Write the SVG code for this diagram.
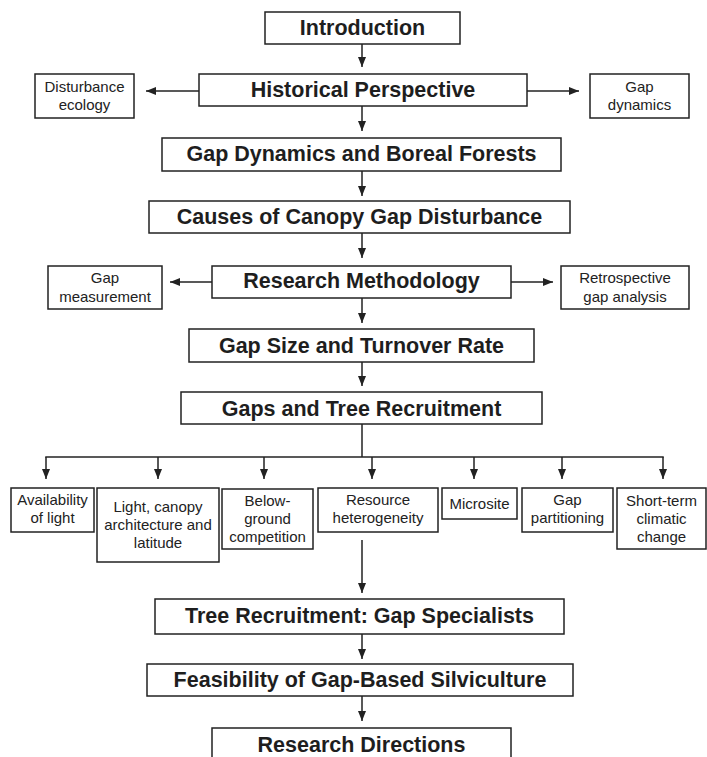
<svg xmlns="http://www.w3.org/2000/svg" width="707" height="757" viewBox="0 0 707 757">
<style>
  .box { fill: #ffffff; stroke: #222222; stroke-width: 1.5; }
  .big { font-family: "Liberation Sans", Arial, Helvetica, sans-serif; font-weight: bold; font-size: 21.5px; fill: #1e1e1e; text-anchor: middle; }
  .sm { font-family: "Liberation Sans", Arial, Helvetica, sans-serif; font-size: 15px; fill: #222222; text-anchor: middle; }
  .ln { stroke: #222222; stroke-width: 1.5; fill: none; }
  .ar { stroke: #222222; stroke-width: 1.5; fill: none; marker-end: url(#ah); }
</style>
<defs>
  <marker id="ah" viewBox="0 0 10 8" refX="10" refY="4" markerWidth="10" markerHeight="8" markerUnits="userSpaceOnUse" orient="auto">
    <path d="M0,0 L10,4 L0,8 z" fill="#222222"/>
  </marker>
</defs>
<rect x="0" y="0" width="707" height="757" fill="#ffffff"/>

<g id="connectors">
  <line class="ar" x1="362" y1="44" x2="362" y2="67"/>
  <line class="ar" x1="199" y1="91" x2="146" y2="91"/>
  <line class="ar" x1="527" y1="91" x2="579" y2="91"/>
  <line class="ar" x1="362" y1="106" x2="362" y2="131"/>
  <line class="ar" x1="362" y1="171" x2="362" y2="196"/>
  <line class="ar" x1="362" y1="233" x2="362" y2="258"/>
  <line class="ar" x1="212" y1="282" x2="170" y2="282"/>
  <line class="ar" x1="511" y1="282" x2="553" y2="282"/>
  <line class="ar" x1="362" y1="298" x2="362" y2="323"/>
  <line class="ar" x1="362" y1="362" x2="362" y2="386"/>
  <line class="ln" x1="362" y1="424" x2="362" y2="457"/>
  <line class="ln" x1="45.25" y1="457" x2="663.75" y2="457"/>
  <line class="ar" x1="46" y1="457" x2="46" y2="479"/>
  <line class="ar" x1="158" y1="457" x2="158" y2="479"/>
  <line class="ar" x1="264" y1="457" x2="264" y2="479"/>
  <line class="ar" x1="372" y1="457" x2="372" y2="479"/>
  <line class="ar" x1="474" y1="457" x2="474" y2="479"/>
  <line class="ar" x1="562" y1="457" x2="562" y2="479"/>
  <line class="ar" x1="663" y1="457" x2="663" y2="479"/>
  <line class="ar" x1="362" y1="540" x2="362" y2="593"/>
  <line class="ar" x1="362" y1="634" x2="362" y2="659"/>
  <line class="ar" x1="362" y1="696" x2="362" y2="721"/>
</g>

<g id="introduction">
  <rect class="box" x="265" y="12" width="195" height="32"/>
  <text class="big" x="362.5" y="35">Introduction</text>
</g>
<g id="historical-perspective">
  <rect class="box" x="199" y="74" width="328" height="32"/>
  <text class="big" x="363" y="97">Historical Perspective</text>
</g>
<g id="disturbance-ecology">
  <rect class="box" x="35" y="74" width="99" height="44"/>
  <text class="sm" x="84.5" y="92">Disturbance</text>
  <text class="sm" x="84.5" y="110">ecology</text>
</g>
<g id="gap-dynamics">
  <rect class="box" x="590" y="74" width="99" height="44"/>
  <text class="sm" x="639.5" y="92">Gap</text>
  <text class="sm" x="639.5" y="110">dynamics</text>
</g>
<g id="gap-dynamics-boreal">
  <rect class="box" x="162" y="138" width="399" height="33"/>
  <text class="big" x="361.5" y="161">Gap Dynamics and Boreal Forests</text>
</g>
<g id="causes">
  <rect class="box" x="149" y="201" width="421" height="32"/>
  <text class="big" x="359.5" y="224">Causes of Canopy Gap Disturbance</text>
</g>
<g id="research-methodology">
  <rect class="box" x="212" y="266" width="299" height="32"/>
  <text class="big" x="361.5" y="288">Research Methodology</text>
</g>
<g id="gap-measurement">
  <rect class="box" x="48" y="266" width="114" height="43"/>
  <text class="sm" x="105" y="283">Gap</text>
  <text class="sm" x="105" y="302">measurement</text>
</g>
<g id="retrospective">
  <rect class="box" x="561" y="266" width="128" height="43"/>
  <text class="sm" x="625" y="283">Retrospective</text>
  <text class="sm" x="625" y="302">gap analysis</text>
</g>
<g id="gap-size">
  <rect class="box" x="189" y="329" width="345" height="33"/>
  <text class="big" x="361.5" y="352.5">Gap Size and Turnover Rate</text>
</g>
<g id="gaps-tree-recruitment">
  <rect class="box" x="181" y="392" width="361" height="32"/>
  <text class="big" x="361.5" y="416">Gaps and Tree Recruitment</text>
</g>
<g id="availability">
  <rect class="box" x="11" y="488" width="83" height="44"/>
  <text class="sm" x="52.5" y="505">Availability</text>
  <text class="sm" x="52.5" y="523">of light</text>
</g>
<g id="light-canopy">
  <rect class="box" x="97" y="488" width="122" height="74"/>
  <text class="sm" x="158" y="512">Light, canopy</text>
  <text class="sm" x="158" y="530">architecture and</text>
  <text class="sm" x="158" y="548">latitude</text>
</g>
<g id="below-ground">
  <rect class="box" x="222" y="489" width="91" height="60"/>
  <text class="sm" x="267.5" y="506">Below-</text>
  <text class="sm" x="267.5" y="524">ground</text>
  <text class="sm" x="267.5" y="542">competition</text>
</g>
<g id="resource">
  <rect class="box" x="318" y="488" width="120" height="44"/>
  <text class="sm" x="378" y="505">Resource</text>
  <text class="sm" x="378" y="523">heterogeneity</text>
</g>
<g id="microsite">
  <rect class="box" x="442" y="488" width="75" height="31"/>
  <text class="sm" x="479.5" y="509">Microsite</text>
</g>
<g id="gap-partitioning">
  <rect class="box" x="522" y="488" width="91" height="44"/>
  <text class="sm" x="567.5" y="505">Gap</text>
  <text class="sm" x="567.5" y="523">partitioning</text>
</g>
<g id="short-term">
  <rect class="box" x="617" y="488" width="89" height="61"/>
  <text class="sm" x="661.5" y="506">Short-term</text>
  <text class="sm" x="661.5" y="524">climatic</text>
  <text class="sm" x="661.5" y="542">change</text>
</g>
<g id="tree-recruitment">
  <rect class="box" x="155" y="599" width="409" height="35"/>
  <text class="big" x="359.5" y="623">Tree Recruitment: Gap Specialists</text>
</g>
<g id="feasibility">
  <rect class="box" x="147" y="664" width="426" height="32"/>
  <text class="big" x="360" y="687">Feasibility of Gap-Based Silviculture</text>
</g>
<g id="research-directions">
  <rect class="box" x="212" y="728" width="299" height="45"/>
  <text class="big" x="361.5" y="752">Research Directions</text>
</g>
</svg>
